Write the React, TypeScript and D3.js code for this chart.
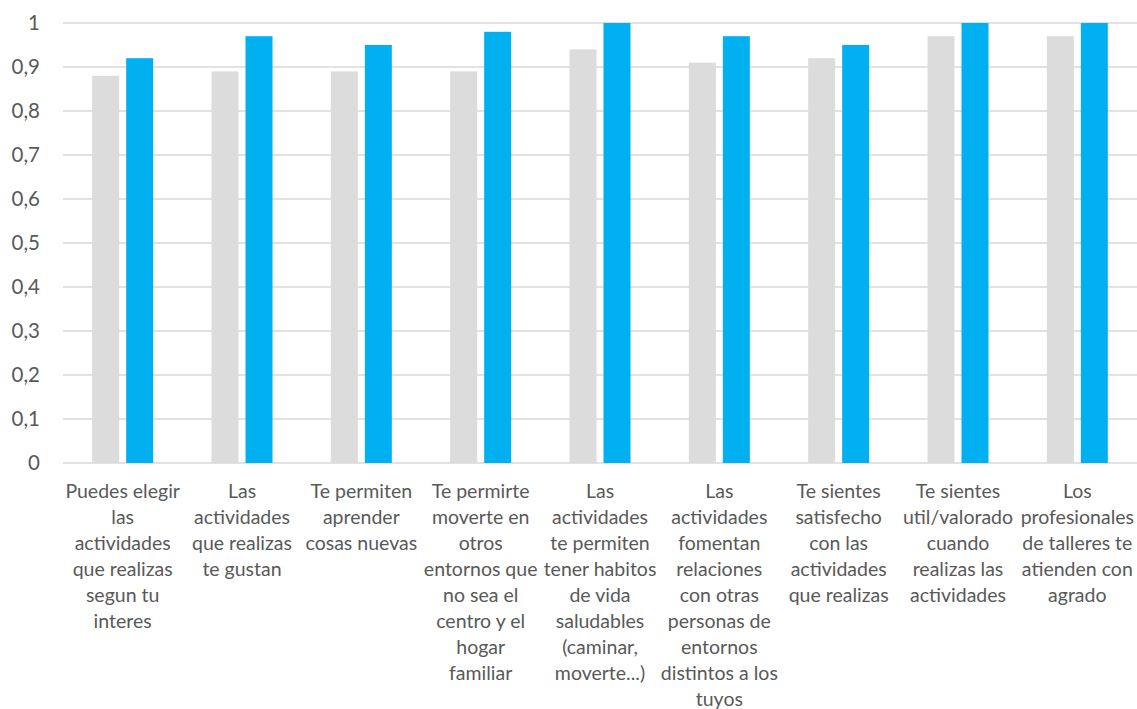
import React from "react";
import * as d3 from "d3";

const categories: string[][] = [
  ["Puedes elegir", "las", "actividades", "que realizas", "segun tu", "interes"],
  ["Las", "actividades", "que realizas", "te gustan"],
  ["Te permiten", "aprender", "cosas nuevas"],
  ["Te permirte", "moverte en", "otros", "entornos que", "no sea el", "centro y el", "hogar", "familiar"],
  ["Las", "actividades", "te permiten", "tener habitos", "de vida", "saludables", "(caminar,", "moverte...)"],
  ["Las", "actividades", "fomentan", "relaciones", "con otras", "personas de", "entornos", "distintos a los", "tuyos"],
  ["Te sientes", "satisfecho", "con las", "actividades", "que realizas"],
  ["Te sientes", "util/valorado", "cuando", "realizas las", "actividades"],
  ["Los", "profesionales", "de talleres te", "atienden con", "agrado"],
];
const seriesGray: number[] = [0.88, 0.89, 0.89, 0.89, 0.94, 0.91, 0.92, 0.97, 0.97];
const seriesBlue: number[] = [0.92, 0.97, 0.95, 0.98, 1, 0.97, 0.95, 1, 1];
const yTicks: number[] = [0, 0.1, 0.2, 0.3, 0.4, 0.5, 0.6, 0.7, 0.8, 0.9, 1];

export default function App() {
  const W = 1137, H = 709;
  const left = 63, right = 1137, top = 23, bottom = 463;
  const idx = categories.map((_, i) => i);
  const x = d3.scaleBand<number>().domain(idx).range([left, right]).paddingInner(0).paddingOuter(0);
  const y = d3.scaleLinear().domain([0, 1]).range([bottom, top]);
  const bw = 27, gap = 7;
  const font = "Lato, 'Open Sans', sans-serif";
  const fmt = (v: number) => (v === 0 || v === 1 ? String(v) : v.toFixed(1).replace(".", ","));
  return (
    <svg width={W} height={H} style={{ position: "absolute", left: 0, top: 0, background: "#fff" }}>
      {yTicks.map((t) => (
        <g key={t}>
          <line x1={left} x2={right} y1={y(t)} y2={y(t)} stroke="#D9D9D9" strokeWidth={1.5} />
          <text x={40} y={y(t)} dy="0.35em" textAnchor="end" fontFamily={font} fontSize={20.5} fill="#595959">
            {fmt(t)}
          </text>
        </g>
      ))}
      {idx.map((i) => {
        const c = (x(i) as number) + x.bandwidth() / 2;
        const g0 = c - gap / 2 - bw;
        const b0 = c + gap / 2;
        return (
          <g key={i}>
            <rect x={g0} y={y(seriesGray[i])} width={bw} height={y(0) - y(seriesGray[i])} fill="#DCDCDC" />
            <rect x={b0} y={y(seriesBlue[i])} width={bw} height={y(0) - y(seriesBlue[i])} fill="#00B0F0" />
            <text textAnchor="middle" fontFamily={font} fontSize={19.5} fill="#595959">
              {categories[i].map((line, k) => (
                <tspan key={k} x={c} y={498 + k * 26}>
                  {line}
                </tspan>
              ))}
            </text>
          </g>
        );
      })}
    </svg>
  );
}
